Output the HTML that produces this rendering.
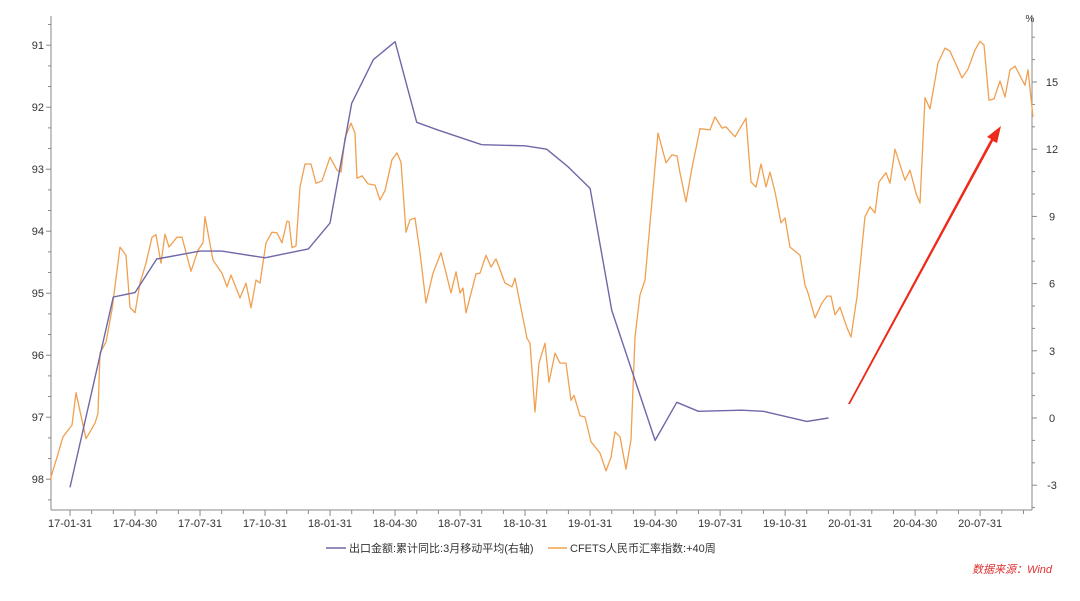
<!DOCTYPE html>
<html><head><meta charset="utf-8">
<style>
html,body{margin:0;padding:0;background:#fff;}
body{width:1080px;height:596px;overflow:hidden;font-family:"Liberation Sans","Noto Sans CJK SC",sans-serif;}
svg text{font-family:"Liberation Sans","Noto Sans CJK SC",sans-serif;}
</style></head>
<body>
<svg id="chart" width="1080" height="596" xmlns="http://www.w3.org/2000/svg">
<g id="axes"></g>
<g id="series"></g>
<g>
  <line x1="326" y1="548" x2="346" y2="548" stroke="#6e68a8" stroke-width="1.5"/>
  <text x="349" y="552" font-size="11" fill="#333">出口金额:累计同比:3月移动平均(右轴)</text>
  <line x1="548" y1="548" x2="567" y2="548" stroke="#f0a050" stroke-width="1.5"/>
  <text x="570" y="552" font-size="11" fill="#333">CFETS人民币汇率指数:+40周</text>
</g>
<text x="1052" y="573" font-size="11" fill="#e03030" font-style="italic" text-anchor="end">数据来源：Wind</text>
<polygon points="848,404 850,404 993,141 997,143 1001,126 987,137 991,139" fill="#ee2a1a"/>
</svg>
<script>
// ---- data ----
const leftTicks = [91,92,93,94,95,96,97,98];
const rightTicks = [-3,0,3,6,9,12,15];
const xLabels = ["17-01-31","17-04-30","17-07-31","17-10-31","18-01-31","18-04-30","18-07-31","18-10-31","19-01-31","19-04-30","19-07-31","19-10-31","20-01-31","20-04-30","20-07-31"];
const blueMonths = [0,2,3,4,6,7,9,11,12,13,14,15,16,17,19,21,22,23,24,25,27,28,29,31,32,34,35];
const blueValues = [-3.1,5.4,5.6,7.1,7.45,7.45,7.15,7.55,8.7,14.05,16.0,16.8,13.2,12.85,12.2,12.15,12.0,11.2,10.25,4.8,-1.0,0.7,0.3,0.35,0.3,-0.15,0.0];
const orangeWeeks = [0,1.4,2.6,4.4,5.2,7.2,9,9.6,10,11.2,12.4,14,15.2,16,17,18,19.2,20.4,21.2,22.2,23,23.8,25.4,26.4,28.2,29.6,30.6,31,32.6,34.4,35.4,36.2,38,39.2,40.2,41.2,42,43.2,44.4,45.4,46.4,47.4,47.8,48.4,49.2,50,51,52.2,53.2,54.4,56,57.4,58.2,59,60.2,61,61.4,62.4,63.6,65,66,67,68.4,69.4,70.2,71.2,72,73,74,75.2,76.6,78.2,80.2,81.2,82,82.6,83.2,85.2,86,87.2,88.2,89.2,91,92.4,93,95.4,96,97,97.8,99,99.8,101,102,103.2,104.2,104.8,106,107,108.2,110,111.2,112.2,113,114,115.2,116.2,117,118,119,121.6,123.2,124.4,125.4,126,127.2,128.4,130,132,133,134.4,135.2,137,139.2,140.2,141.2,142.2,143.2,144,145,146.2,147,148,150,151,151.6,153,154.4,155.4,156.2,157,158,159.4,160.2,161.4,163,164,165,165.8,167.2,168,169,171,172,173.2,174,175,176,177.6,179,180,182.4,183.6,185,186,186.8,187.8,188.8,190,191,192,193,195,195.6,196.6];
const orangeValues = [98.02,97.65,97.32,97.13,96.61,97.35,97.10,96.94,95.97,95.79,95.27,94.26,94.39,95.23,95.32,94.84,94.52,94.10,94.06,94.52,94.05,94.26,94.10,94.10,94.65,94.31,94.19,93.77,94.47,94.68,94.90,94.71,95.08,94.84,95.24,94.79,94.84,94.19,94.02,94.03,94.19,93.84,93.85,94.27,94.24,93.29,92.92,92.92,93.23,93.19,92.81,93.02,93.05,92.50,92.26,92.42,93.15,93.11,93.24,93.26,93.50,93.35,92.85,92.74,92.89,94.02,93.82,93.79,94.35,95.16,94.68,94.35,95.00,94.66,95.00,94.92,95.32,94.69,94.68,94.39,94.58,94.45,94.84,94.90,94.76,95.73,95.81,96.92,96.13,95.81,96.44,95.97,96.13,96.13,96.73,96.65,96.98,97.00,97.40,97.58,97.87,97.65,97.24,97.32,97.84,97.37,95.71,95.03,94.79,92.42,92.90,92.77,92.79,93.06,93.53,92.98,92.35,92.37,92.16,92.34,92.32,92.48,92.18,93.21,93.29,92.92,93.29,93.05,93.37,93.87,93.79,94.26,94.39,94.87,95.00,95.40,95.16,95.05,95.05,95.35,95.23,95.56,95.71,95.06,93.77,93.61,93.71,93.21,93.06,93.23,92.68,93.18,93.02,93.39,93.55,91.85,92.03,91.29,91.05,91.10,91.53,91.39,91.08,90.94,91.00,91.89,91.87,91.58,91.84,91.40,91.34,91.65,91.40,92.16];

// ---- scales ----
const PL=51, PR=1032, PT=16, PB=510;
const xMonth = m => 70 + m*21.67;           // months since 2017-01-31
const xWeek = w => 50 + w*5.0;              // weeks since series start
const yLeft = v => 45 + (v-91)*62;          // inverted index axis
const yRight = v => 418 - v*22.4;           // percent axis

const NS="http://www.w3.org/2000/svg";
function mk(tag, attrs, parent){const e=document.createElementNS(NS,tag);for(const k in attrs)e.setAttribute(k,attrs[k]);parent.appendChild(e);return e;}
const axes=document.getElementById('axes'), series=document.getElementById('series');
const AX="#8a8a8a";

let e;
e=mk('line',{x1:PL,y1:PT,x2:PL,y2:PB,stroke:AX,'stroke-width':1},axes);


e=mk('line',{x1:PR,y1:PT,x2:PR,y2:PB,stroke:AX,'stroke-width':1},axes);


e=mk('line',{x1:PL,y1:PB,x2:PR,y2:PB,stroke:AX,'stroke-width':1},axes);



// left ticks
for(let v=90.67; v<=98.5; v+=1/3){
  const y=yLeft(v); if(y<PT||y>PB) continue;
  const major=Math.abs(v-Math.round(v))<0.05;
  e=mk('line',{x1:PL-(major?5:3),y1:y,x2:PL,y2:y,stroke:AX},axes);
  
  
}
leftTicks.forEach(v=>{
  e=mk('text',{x:PL-7,y:yLeft(v)+4,'font-size':11,fill:'#333','text-anchor':'end'},axes);
  e.textContent=v;
  
  
});
// right ticks
for(let v=-4; v<=17; v++){
  const y=yRight(v); if(y<PT||y>PB) continue;
  const major=(v%3===0);
  e=mk('line',{x1:PR,y1:y,x2:PR+(major?5:3),y2:y,stroke:AX},axes);
  
  
}
rightTicks.forEach(v=>{
  e=mk('text',{x:PR+20,y:yRight(v)+4,'font-size':11,fill:'#333','text-anchor':'middle'},axes);
  e.textContent=v;
  
  
});
e=mk('text',{x:PR-2,y:22,'font-size':10,fill:'#333','text-anchor':'middle'},axes);
e.textContent='%';


// x ticks
for(let m=-0.9; m<=44.5; m+=1){
  const mm=Math.round(m); const x=xMonth(mm); if(x<PL||x>PR) continue;
  const major=(mm%3===0);
  e=mk('line',{x1:x,y1:PB,x2:x,y2:PB+(major?6:4),stroke:AX},axes);
  
  
}
xLabels.forEach((t,i)=>{
  e=mk('text',{x:xMonth(i*3),y:527,'font-size':11,fill:'#333','text-anchor':'middle'},axes);
  e.textContent=t;
  
  
});

// series
let d=orangeWeeks.map((w,i)=>(i?'L':'M')+xWeek(w).toFixed(1)+','+yLeft(orangeValues[i]).toFixed(1)).join('');
e=mk('path',{d:d,fill:'none',stroke:'#f0a050','stroke-width':1.3,'stroke-linejoin':'round'},series);


d=blueMonths.map((m,i)=>(i?'L':'M')+xMonth(m).toFixed(1)+','+yRight(blueValues[i]).toFixed(1)).join('');
e=mk('path',{d:d,fill:'none',stroke:'#6e68a8','stroke-width':1.4,'stroke-linejoin':'round'},series);


</script>
</body></html>
